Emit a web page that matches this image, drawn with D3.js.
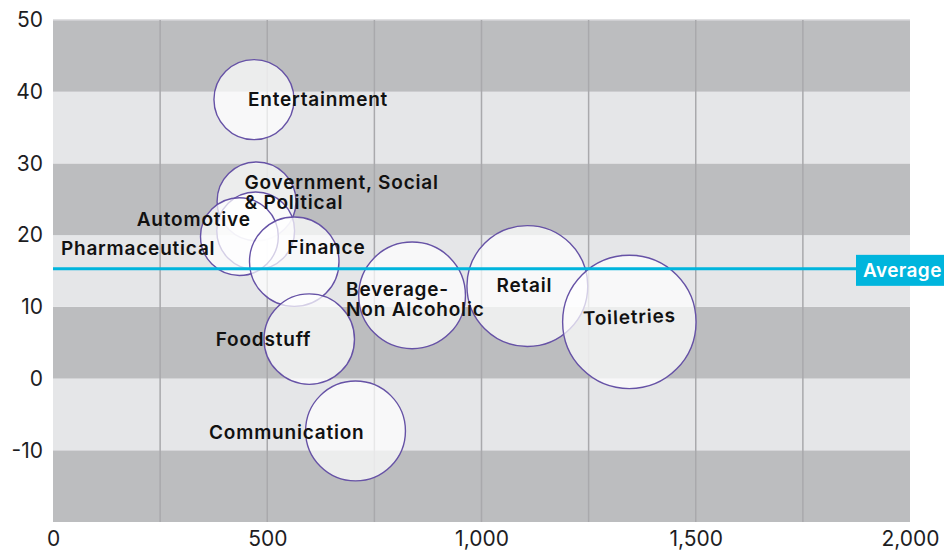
<!DOCTYPE html>
<html>
<head>
<meta charset="utf-8">
<script src="https://cdn.jsdelivr.net/npm/d3@7"></script>
<style>
  body { margin: 0; background: #fff; }
  svg text { font-family: Inter, "Noto Sans", sans-serif; }
</style>
</head>
<body>
<div id="chart"></div>
<script>
// sectors: x = spend, y = growth, z = bubble size
var sectors = ["Entertainment", "Government, Social & Political", "Automotive", "Pharmaceutical",
  "Finance", "Foodstuff", "Beverage-Non Alcoholic", "Communication", "Retail", "Toiletries"];
var xValues = [469, 475, 473, 435, 563, 598, 838, 706, 1107, 1345];
var yValues = [38.9, 24.7, 20.6, 19.8, 16.3, 5.5, 11.6, -7.3, 12.9, 7.9];
var zValues = [36, 35, 34, 34, 45, 46, 64, 56, 82, 100];
var averageValue = 15.3;
var xTicks = [0, 500, 1000, 1500, 2000];
var yTicks = [-10, 0, 10, 20, 30, 40, 50];

// label lines and placement relative to the bubble centre
var labelLines = [["Entertainment"], ["Government, Social", "& Political"], ["Automotive"], ["Pharmaceutical"],
  ["Finance"], ["Foodstuff"], ["Beverage-", "Non Alcoholic"], ["Communication"], ["Retail"], ["Toiletries"]];
var labelPlace = [
  { anchor: "start", dx: -6, dy: 0 },
  { anchor: "start", dx: -12, dy: -19 },
  { anchor: "end", dx: -5, dy: -11 },
  { anchor: "end", dx: -24, dy: 12 },
  { anchor: "start", dx: -7, dy: -14 },
  { anchor: "end", dx: 2, dy: 0 },
  { anchor: "start", dx: -66, dy: -6 },
  { anchor: "end", dx: 9, dy: 1.5 },
  { anchor: "middle", dx: -3, dy: -1 },
  { anchor: "middle", dx: 0, dy: -5 }
];

var width = 944, height = 550;
var pLeft = 53, pRight = 910, pTop = 20, pBottom = 522;

var svg = d3.select("#chart").append("svg")
  .attr("width", width)
  .attr("height", height);

var x = d3.scaleLinear().domain([0, 2000]).range([pLeft, pRight]);
var y = d3.scaleLinear().domain([-20, 50]).range([pBottom, pTop]);
var r = d3.scaleSqrt().domain([0, 100]).range([0, 66.7]);

// alternating bands
var bands = d3.range(-20, 50, 10);
svg.append("g").selectAll("rect")
  .data(bands)
  .enter().append("rect")
    .attr("x", pLeft)
    .attr("width", pRight - pLeft)
    .attr("y", function(d) { return y(d + 10); })
    .attr("height", function(d) { return y(d) - y(d + 10); })
    .attr("fill", function(d) { return ((d + 20) / 10) % 2 == 0 ? "#bcbdbf" : "#e5e6e8"; });

svg.append("line")
  .attr("x1", pLeft).attr("x2", pRight)
  .attr("y1", pTop).attr("y2", pTop)
  .attr("stroke", "#d6d6d8").attr("stroke-width", 1.5);

// vertical grid
svg.append("g").selectAll("line")
  .data(d3.range(250, 2000, 250))
  .enter().append("line")
    .attr("x1", function(d) { return x(d); })
    .attr("x2", function(d) { return x(d); })
    .attr("y1", pTop)
    .attr("y2", pBottom)
    .attr("stroke", "#a9a9ac")
    .attr("stroke-width", 1.5);

// axes
var yAxis = svg.append("g")
  .attr("transform", "translate(" + (pLeft - 10) + ",0)")
  .call(d3.axisLeft(y).tickValues(yTicks).tickSize(0).tickPadding(0).tickFormat(function(d) { return String(d); }));
var xAxis = svg.append("g")
  .attr("transform", "translate(0," + (pBottom + 8) + ")")
  .call(d3.axisBottom(x).tickValues(xTicks).tickSize(0).tickPadding(0).tickFormat(d3.format(",")));
[yAxis, xAxis].forEach(function(a) {
  a.select(".domain").remove();
  a.selectAll("text")
    .style("font-family", "Inter, sans-serif")
    .style("font-size", "21px")
    .attr("fill", "#1d1d1f");
});
xAxis.selectAll("text").attr("dy", "0.75em");

// bubbles
var data = sectors.map(function(s, i) {
  return { name: s, x: xValues[i], y: yValues[i], z: zValues[i], lines: labelLines[i], place: labelPlace[i] };
});

svg.append("g").selectAll("circle")
  .data(data)
  .enter().append("circle")
    .attr("cx", function(d) { return x(d.x); })
    .attr("cy", function(d) { return y(d.y); })
    .attr("r", function(d) { return r(d.z); })
    .attr("fill", "#ffffff")
    .attr("fill-opacity", 0.72)
    .attr("stroke", "#6652a6")
    .attr("stroke-width", 1.4);

// average line
svg.append("line")
  .attr("x1", pLeft).attr("x2", 858)
  .attr("y1", y(averageValue)).attr("y2", y(averageValue))
  .attr("stroke", "#00b5dd")
  .attr("stroke-width", 3);
svg.append("rect")
  .attr("x", 856)
  .attr("y", y(averageValue) - 14)
  .attr("width", width - 856)
  .attr("height", 31)
  .attr("fill", "#00b5dd");
svg.append("text")
  .attr("x", 863)
  .attr("y", y(averageValue) + 1.5)
  .attr("dy", "0.35em")
  .attr("fill", "#fff")
  .style("font-size", "19px")
  .style("font-weight", 600)
  .style("letter-spacing", "0.4px")
  .text("Average");

// labels
var labels = svg.append("g").selectAll("text")
  .data(data)
  .enter().append("text")
    .attr("text-anchor", function(d) { return d.place.anchor; })
    .attr("transform", function(d) {
      var t = "translate(" + (x(d.x) + d.place.dx) + "," + (y(d.y) + d.place.dy) + ")";
      if (d.name == "Toiletries") t += " rotate(-2)";
      return t;
    })
    .attr("fill", "#111")
    .style("font-size", "19px")
    .style("font-weight", 600)
    .style("letter-spacing", "0.8px");

labels.selectAll("tspan")
  .data(function(d) { return d.lines; })
  .enter().append("tspan")
    .attr("x", 0)
    .attr("dy", function(d, i) { return i == 0 ? "0.35em" : "1.05em"; })
    .text(function(d) { return d; });
</script>
</body>
</html>
